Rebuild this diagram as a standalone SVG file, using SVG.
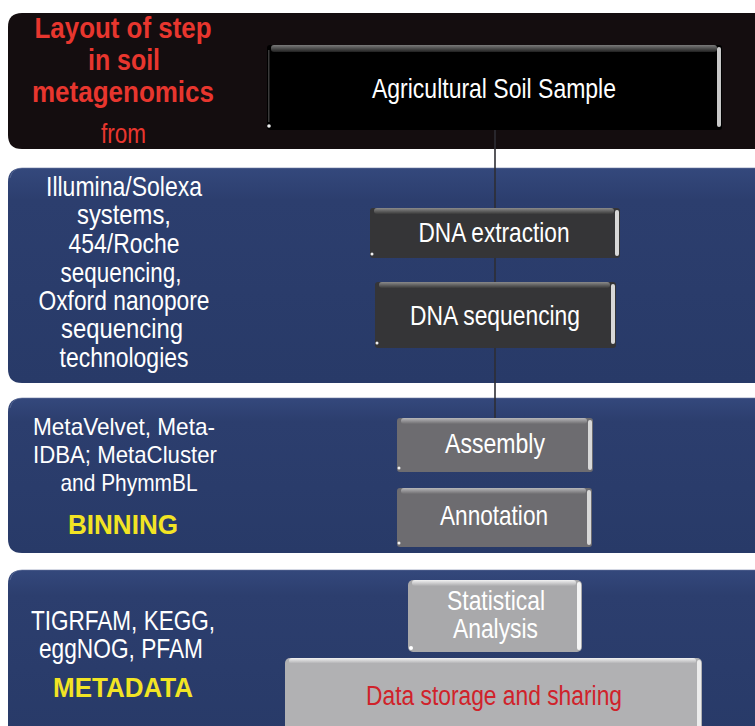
<svg xmlns="http://www.w3.org/2000/svg" width="755" height="726" viewBox="0 0 755 726">
<style>
  text { font-family: "Liberation Sans Narrow", "Liberation Sans", Arial, sans-serif; text-anchor: middle; }
  .side { fill: #ffffff; font-size: 28px; }
  .side3 { fill: #ffffff; font-size: 24px; }
  .title { fill: #e8362e; font-size: 29px; font-weight: bold; }
  .titlen { fill: #e8362e; font-size: 28px; }
  .yel { fill: #f2e424; font-size: 28px; font-weight: bold; }
  .lbl { fill: #ffffff; font-size: 28px; }
  .red { fill: #d0222a; font-size: 27px; }
  .bluepanel { fill: url(#blueGrad); }
  .edge { fill: none; stroke: #6a7aa0; stroke-width: 1; opacity: 0.6; }
  .conn { stroke: #2e2e34; stroke-width: 1.6; fill: none; }
  .rbar { fill: #d8d8d8; }
  .dot { fill: #f0f0f0; }
</style>
<defs>
  <linearGradient id="blueGrad" x1="0" y1="0" x2="0" y2="1">
    <stop offset="0" stop-color="#34487c"/>
    <stop offset="0.15" stop-color="#2c3e6e"/>
    <stop offset="1" stop-color="#283a68"/>
  </linearGradient>
  <linearGradient id="topDark" x1="0" y1="0" x2="0" y2="1">
    <stop offset="0" stop-color="#8a8a8a"/>
    <stop offset="1" stop-color="#3a3a3a"/>
  </linearGradient>
  <linearGradient id="topBlack" x1="0" y1="0" x2="0" y2="1">
    <stop offset="0" stop-color="#7a7a7a"/>
    <stop offset="1" stop-color="#202020"/>
  </linearGradient>
  <linearGradient id="topMid" x1="0" y1="0" x2="0" y2="1">
    <stop offset="0" stop-color="#b8b8ba"/>
    <stop offset="1" stop-color="#6e6d70"/>
  </linearGradient>
  <linearGradient id="topLight" x1="0" y1="0" x2="0" y2="1">
    <stop offset="0" stop-color="#f2f2f2"/>
    <stop offset="1" stop-color="#ababad"/>
  </linearGradient>
</defs>
<rect width="755" height="726" fill="#ffffff"/>

<!-- Panels -->
<g id="panel-sample">
  <path d="M22,13 H760 V149 H22 Q8,149 8,135 V27 Q8,13 22,13 Z" fill="#140d0f"/>
  <text class="title" x="123" y="38" textLength="177" lengthAdjust="spacingAndGlyphs">Layout of step</text>
  <text class="title" x="124" y="70" textLength="72" lengthAdjust="spacingAndGlyphs">in soil</text>
  <text class="title" x="123" y="102" textLength="182" lengthAdjust="spacingAndGlyphs">metagenomics</text>
  <text class="titlen" x="123.5" y="143" textLength="45" lengthAdjust="spacingAndGlyphs">from</text>
</g>
<g id="panel-sequencing">
  <path d="M22,168 H760 V383 H22 Q8,383 8,369 V182 Q8,168 22,168 Z" class="bluepanel"/>
  <path d="M10,178 Q12,168 22,168 H760" class="edge"/>
  <text class="side" x="124" y="196" textLength="156" lengthAdjust="spacingAndGlyphs">Illumina/Solexa</text>
  <text class="side" x="124" y="224" textLength="94" lengthAdjust="spacingAndGlyphs">systems,</text>
  <text class="side" x="124" y="253" textLength="111" lengthAdjust="spacingAndGlyphs">454/Roche</text>
  <text class="side" x="121" y="282" textLength="121" lengthAdjust="spacingAndGlyphs">sequencing,</text>
  <text class="side" x="124" y="310" textLength="171" lengthAdjust="spacingAndGlyphs">Oxford nanopore</text>
  <text class="side" x="122" y="338" textLength="122" lengthAdjust="spacingAndGlyphs">sequencing</text>
  <text class="side" x="124" y="367" textLength="129" lengthAdjust="spacingAndGlyphs">technologies</text>
</g>
<g id="panel-binning">
  <path d="M22,398 H760 V553 H22 Q8,553 8,539 V412 Q8,398 22,398 Z" class="bluepanel"/>
  <path d="M10,408 Q12,398 22,398 H760" class="edge"/>
  <text class="side3" x="124" y="435" textLength="182" lengthAdjust="spacingAndGlyphs">MetaVelvet, Meta-</text>
  <text class="side3" x="125" y="463" textLength="184" lengthAdjust="spacingAndGlyphs">IDBA; MetaCluster</text>
  <text class="side3" x="129" y="491" textLength="137" lengthAdjust="spacingAndGlyphs">and PhymmBL</text>
  <text class="yel" x="123" y="534" textLength="110" lengthAdjust="spacingAndGlyphs">BINNING</text>
</g>
<g id="panel-metadata">
  <path d="M22,570 H760 V740 H22 Q8,740 8,726 V584 Q8,570 22,570 Z" class="bluepanel"/>
  <path d="M10,580 Q12,570 22,570 H760" class="edge"/>
  <text class="side" x="123" y="630" textLength="184" lengthAdjust="spacingAndGlyphs">TIGRFAM, KEGG,</text>
  <text class="side" x="121" y="658" textLength="164" lengthAdjust="spacingAndGlyphs">eggNOG, PFAM</text>
  <text class="yel" x="123" y="697" textLength="140" lengthAdjust="spacingAndGlyphs">METADATA</text>
</g>

<!-- Connectors -->
<g id="connectors">
  <line class="conn" x1="495" y1="130" x2="495" y2="418"/>
</g>

<!-- Nodes -->
<g id="node-agricultural-soil-sample">
  <rect x="267" y="45" width="455" height="85" rx="3" fill="#000000"/>
  <rect x="271" y="45" width="446" height="7" rx="3" fill="url(#topBlack)"/>
  <rect x="717" y="47" width="4" height="80" rx="2" fill="#c8c8c8"/>
  <rect x="268" y="50" width="1.5" height="72" fill="#3a3a3a"/>
  <circle cx="269" cy="126" r="1.8" class="dot"/>
  <text class="lbl" x="494" y="98" textLength="244" lengthAdjust="spacingAndGlyphs">Agricultural Soil Sample</text>
</g>
<g id="node-dna-extraction">
  <rect x="370" y="208" width="250" height="50" rx="3" fill="#353537"/>
  <rect x="374" y="208" width="240" height="6" rx="3" fill="url(#topDark)"/>
  <rect x="615" y="210" width="4" height="46" rx="2" class="rbar"/>
  <circle cx="372" cy="254" r="1.5" class="dot"/>
  <text class="lbl" x="494" y="242" textLength="151" lengthAdjust="spacingAndGlyphs">DNA extraction</text>
</g>
<g id="node-dna-sequencing">
  <rect x="375" y="282" width="241" height="66" rx="3" fill="#353537"/>
  <rect x="379" y="282" width="231" height="6" rx="3" fill="url(#topDark)"/>
  <rect x="611" y="284" width="4" height="60" rx="2" class="rbar"/>
  <circle cx="377" cy="343" r="1.5" class="dot"/>
  <text class="lbl" x="495" y="325" textLength="170" lengthAdjust="spacingAndGlyphs">DNA sequencing</text>
</g>
<g id="node-assembly">
  <rect x="397" y="418" width="196" height="54" rx="3" fill="#6d6c70"/>
  <rect x="401" y="418" width="186" height="6" rx="3" fill="url(#topMid)"/>
  <rect x="588" y="420" width="4" height="50" rx="2" class="rbar"/>
  <circle cx="399" cy="468" r="1.5" class="dot"/>
  <text class="lbl" x="495" y="453" textLength="100" lengthAdjust="spacingAndGlyphs">Assembly</text>
</g>
<g id="node-annotation">
  <rect x="397" y="488" width="195" height="59" rx="3" fill="#6d6c70"/>
  <rect x="401" y="488" width="185" height="6" rx="3" fill="url(#topMid)"/>
  <rect x="587" y="490" width="4" height="55" rx="2" class="rbar"/>
  <circle cx="399" cy="543" r="1.5" class="dot"/>
  <text class="lbl" x="494" y="525" textLength="108" lengthAdjust="spacingAndGlyphs">Annotation</text>
</g>
<g id="node-statistical-analysis">
  <rect x="408" y="580" width="174" height="72" rx="5" fill="#a9a9ab"/>
  <rect x="412" y="580" width="164" height="6" rx="3" fill="url(#topLight)"/>
  <rect x="577" y="582" width="4" height="68" rx="2" fill="#f4f4f4"/>
  <circle cx="411" cy="648" r="2" fill="#ffffff"/>
  <text class="lbl" x="496" y="610" font-size="26" textLength="98" lengthAdjust="spacingAndGlyphs">Statistical</text>
  <text class="lbl" x="495.5" y="638" font-size="26" textLength="85" lengthAdjust="spacingAndGlyphs">Analysis</text>
</g>
<g id="node-data-storage">
  <rect x="285" y="658" width="417" height="80" rx="5" fill="#b1b1b3"/>
  <rect x="289" y="658" width="407" height="6" rx="3" fill="url(#topLight)"/>
  <rect x="697" y="660" width="4" height="70" rx="2" fill="#ececec"/>
  <text class="red" x="494" y="705" textLength="256" lengthAdjust="spacingAndGlyphs">Data storage and sharing</text>
</g>
</svg>
